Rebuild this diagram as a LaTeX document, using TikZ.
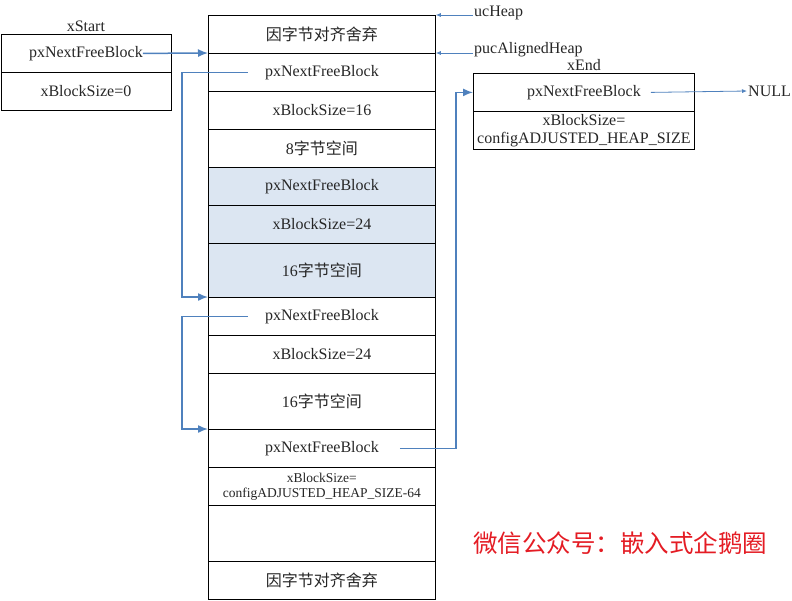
\documentclass[tikz,border=0pt]{standalone}
\usepackage{fontspec}
\setmainfont{Liberation Serif}
\newfontfamily\cjk{Noto Sans CJK SC}
\usetikzlibrary{positioning,arrows.meta}
\definecolor{ptrblue}{RGB}{79,129,189}
\definecolor{freeshade}{RGB}{220,230,242}
\definecolor{wxred}{RGB}{228,28,36}
\newcommand{\zh}[1]{{\cjk #1}}

\begin{document}
\begin{tikzpicture}[x=1pt,y=-1pt]
  \tikzstyle{cell}=[draw=black,line width=0.8pt,inner sep=0pt,anchor=north west,align=center,
                    font=\fontsize{16}{18}\selectfont,text=black!85]
  \tikzstyle{ptr}=[-{Latex[length=10pt,width=8pt]},draw=ptrblue,line width=1.5pt]
  \tikzstyle{thinptr}=[-{Latex[length=5pt,width=4pt]},draw=ptrblue,line width=0.8pt]
  \tikzstyle{tag}=[inner sep=1pt,font=\fontsize{16}{18}\selectfont,text=black!85]
  \useasboundingbox (0,0) rectangle (792,600);

  % the heap column
  \foreach \n/\y/\h/\f/\fs/\txt in {1/15/38/white/16/\zh{因字节对齐舍弃},
                               2/53/38/white/16/pxNextFreeBlock,
                               3/91/38/white/16/xBlockSize=16,
                               4/129/38/white/16/8\zh{字节空间},
                               5/167/38/freeshade/16/pxNextFreeBlock,
                               6/205/38/freeshade/16/xBlockSize=24,
                               7/243/54/freeshade/16/16\zh{字节空间},
                               8/297/38/white/16/pxNextFreeBlock,
                               9/335/38/white/16/xBlockSize=24,
                               10/373/56/white/16/16\zh{字节空间},
                               11/429/38/white/16/pxNextFreeBlock,
                               12/467/38/white/13.5/{xBlockSize=\\configADJUSTED\_HEAP\_SIZE-64},
                               13/505/56/white/16/{},
                               14/561/38/white/16/\zh{因字节对齐舍弃}}
      \node[cell,fill=\f,font=\fontsize{\fs}{15}\selectfont,minimum width=227pt,minimum height=\h pt] (c\n) at (208,\y) {\txt};

  % xStart and xEnd
  \node[cell,minimum width=170pt,minimum height=38pt] (s1) at (0.5,34) {pxNextFreeBlock};
  \node[cell,minimum width=170pt,minimum height=38pt] (s2) at (0.5,72) {xBlockSize=0};
  \node[tag,above=1pt of s1] (xstart) {xStart};

  \node[cell,minimum width=221pt,minimum height=38pt] (e1) at (473,73) {pxNextFreeBlock};
  \node[cell,minimum width=221pt,minimum height=38pt] (e2) at (473,111) {xBlockSize=\\configADJUSTED\_HEAP\_SIZE};
  \node[tag,above=1pt of e1] (xend) {xEnd};

  \node[tag,anchor=west] (null) at (747,91) {NULL};
  \node[tag,anchor=west] (uc) at (473,13) {ucHeap};
  \node[tag,anchor=west] (puc) at (473,50) {pucAlignedHeap};

  % pointers
  \draw[thinptr] (uc.west |- c1.north east) -- (c1.north east);
  \draw[thinptr] (puc.west |- c2.north east) -- (c2.north east);
  \draw[ptr] ([xshift=57pt]s1.center) -- (c2.north west);
  \draw[ptr] ([xshift=-74pt]c2.center) -| ([xshift=-26pt]c8.north west) -- (c8.north west);
  \draw[ptr] ([xshift=-74pt]c8.center) -| ([xshift=-26pt]c11.north west) -- (c11.north west);
  \draw[ptr] ([xshift=78pt]c11.center) -| ([xshift=-17pt]e1.west) -- (e1.west);
  \draw[thinptr] ([xshift=67pt]e1.center) -- (null.west);

  \node[font=\cjk\fontsize{24.5}{26}\selectfont,text=wxred] (wx) at (620,543) {微信公众号：嵌入式企鹅圈};
\end{tikzpicture}
\end{document}
